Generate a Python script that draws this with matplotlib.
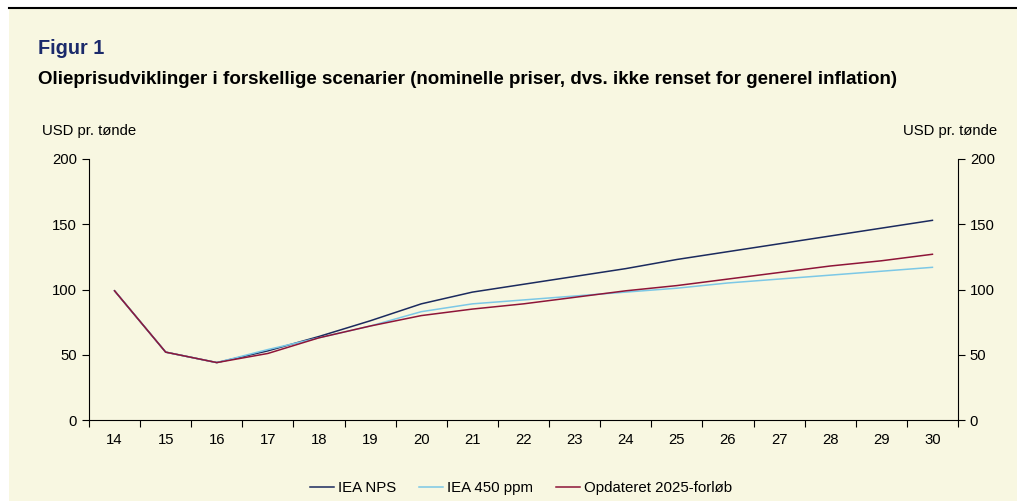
import matplotlib.pyplot as plt
from matplotlib.patches import Rectangle
from matplotlib.lines import Line2D

plt.rcParams['font.family'] = ['Liberation Sans', 'DejaVu Sans']

years = ['14', '15', '16', '17', '18', '19', '20', '21', '22', '23',
         '24', '25', '26', '27', '28', '29', '30']
iea_nps = [99, 52, 44, 53, 64, 76, 89, 98, 104, 110, 116, 123, 129, 135, 141, 147, 153]
iea_450 = [99, 52, 44, 54, 63, 72, 83, 89, 92, 95, 98, 101, 105, 108, 111, 114, 117]
opdateret = [99, 52, 44, 51, 63, 72, 80, 85, 89, 94, 99, 103, 108, 113, 118, 122, 127]
labels = ['IEA NPS', 'IEA 450 ppm', 'Opdateret 2025-forløb']
colors = ['#1B2A5E', '#7CC8E6', '#8E1538']

bg = '#F8F7E1'
W, H = 1017, 501
fig = plt.figure(figsize=(W / 100, H / 100), dpi=100, facecolor='white')
fig.patches.append(Rectangle((9 / W, 0), 1, 1 - 8 / H, transform=fig.transFigure,
                             facecolor=bg, edgecolor='none', zorder=-5))
fig.lines.append(Line2D([9 / W, 1], [1 - 8 / H, 1 - 8 / H], transform=fig.transFigure,
                        color='black', lw=1.5))

fig.text(38 / W, 1 - 48 / H, 'Figur 1', fontsize=14.3, fontweight='bold',
         color='#1B2A6B', va='center')
fig.text(38 / W, 1 - 79 / H,
         'Olieprisudviklinger i forskellige scenarier (nominelle priser, dvs. ikke renset for generel inflation)',
         fontsize=13.5, fontweight='bold', color='black', va='center')

ax = fig.add_axes([89 / W, 1 - 420 / H, (958 - 89) / W, (420 - 159) / H])
ax.set_facecolor('none')
x = list(range(len(years)))
for vals, lab, c in zip([iea_nps, iea_450, opdateret], labels, colors):
    ax.plot(x, vals, color=c, lw=1.1, label=lab)

ax.set_xlim(-0.5, len(years) - 0.5)
ax.set_ylim(0, 200)
ax.set_yticks([0, 50, 100, 150, 200])
ax.set_xticks(x)
ax.set_xticklabels(years)
ax.set_xticks([i - 0.5 for i in range(len(years) + 1)], minor=True)
ax.tick_params(axis='x', which='major', length=0, labelsize=10.7, pad=9)
ax.tick_params(axis='x', which='minor', length=5, direction='out', width=0.8)
ax.tick_params(axis='y', length=5, width=0.8, labelsize=10.7, direction='out',
               left=True, right=True, labelleft=True, labelright=True)
ax.spines['top'].set_visible(False)
for s in ['left', 'right', 'bottom']:
    ax.spines[s].set_linewidth(0.8)

fig.text(42 / W, 1 - 131 / H, 'USD pr. tønde', fontsize=10.7, va='center', ha='left')
fig.text(997 / W, 1 - 131 / H, 'USD pr. tønde', fontsize=10.7, va='center', ha='right')

fig.legend(loc='center', bbox_to_anchor=(521 / W, 1 - 488 / H), ncol=3,
           frameon=False, fontsize=10.8, handlelength=1.6, handletextpad=0.3,
           columnspacing=1.5)

fig.savefig('out.png', dpi=100, facecolor='white')
